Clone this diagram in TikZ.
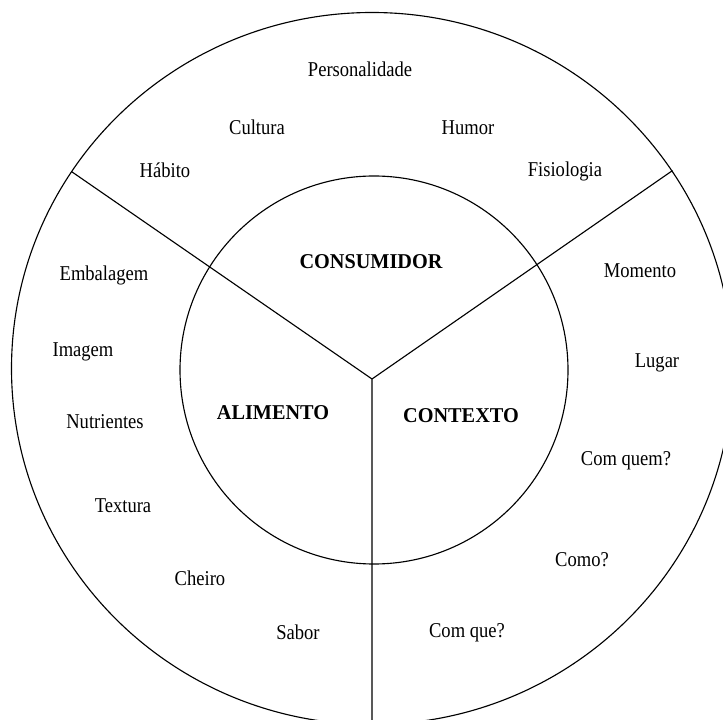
\documentclass[tikz,border=0pt]{standalone}
\usepackage{fontspec}
\setmainfont{Liberation Serif}[FakeStretch=0.88]
\newfontfamily\eixofont{Liberation Serif}[FakeStretch=0.96]
\begin{document}
\begin{tikzpicture}[x=0.025cm, y=-0.025cm, line join=round, line cap=round,
		fator/.style={font=\fontsize{15}{17}\selectfont, anchor=base, inner sep=0pt},
		eixo/.style={font=\eixofont\fontsize{15}{17}\selectfont\bfseries, anchor=base, inner sep=0pt}]
	\useasboundingbox (0,0) rectangle (723,720);
	\clip (0,0) rectangle (723,720);
	% circulos
	\draw[line width=0.8pt] (372,368.5) ellipse [x radius=360.5, y radius=356];
	\draw[line width=0.8pt] (374,370) circle [radius=194];
	% divisoes
	\coordinate (O) at (372,379);
	\coordinate (L) at (71.7,171.7);
	\coordinate (R) at (672.3,170.7);
	\coordinate (B) at (372,722);
	\draw[line width=0.8pt] (O)--(L) (O)--(R) (O)--(B);
	% eixos
	\node[eixo] (consumidor) at (371,269) {CONSUMIDOR};
	\node[eixo] (alimento) at (273,420) {ALIMENTO};
	\node[eixo] (contexto) at (461,423) {CONTEXTO};
	% consumidor
	\node[fator] (personalidade) at (360,77) {Personalidade};
	\node[fator] (cultura) at (257,135) {Cultura};
	\node[fator] (humor) at (468,135) {Humor};
	\node[fator] (habito) at (165,178) {Hábito};
	\node[fator] (fisiologia) at (565,177) {Fisiologia};
	% alimento
	\node[fator] (embalagem) at (104,281) {Embalagem};
	\node[fator] (imagem) at (83,357) {Imagem};
	\node[fator] (nutrientes) at (105,429) {Nutrientes};
	\node[fator] (textura) at (123,513) {Textura};
	\node[fator] (cheiro) at (200,585) {Cheiro};
	\node[fator] (sabor) at (298,639) {Sabor};
	% contexto
	\node[fator] (momento) at (640,278) {Momento};
	\node[fator] (lugar) at (657,368) {Lugar};
	\node[fator] (comquem) at (626,466) {Com quem?};
	\node[fator] (como) at (582,566) {Como?};
	\node[fator] (comque) at (467,637) {Com que?};
\end{tikzpicture}
\end{document}
